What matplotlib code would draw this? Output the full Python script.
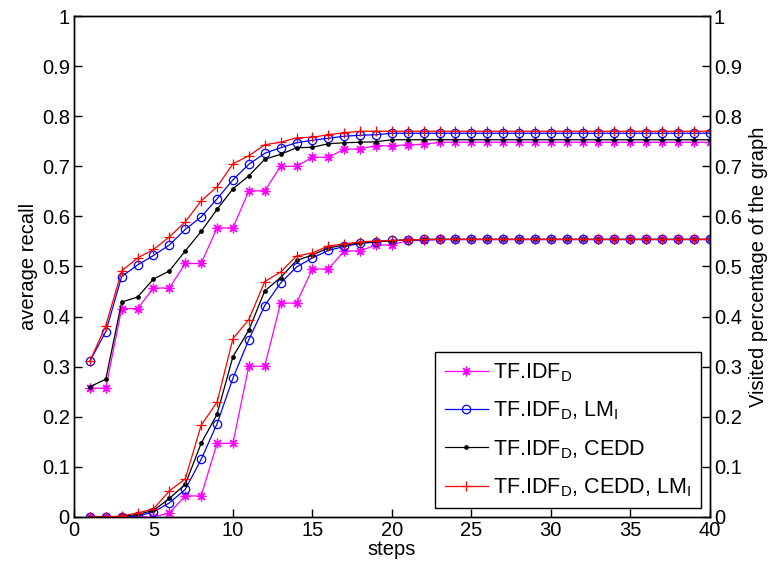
import numpy as np
import matplotlib
matplotlib.use("Agg")
import matplotlib.pyplot as plt

plt.rcParams['font.family'] = ['Liberation Sans', 'DejaVu Sans']
plt.rcParams['mathtext.fontset'] = 'custom'
plt.rcParams['mathtext.rm'] = 'Liberation Sans'

steps = np.arange(1, 41)

# average recall (left axis)
recall_tfidf = [0.257, 0.257, 0.416, 0.416, 0.457, 0.457, 0.506, 0.506, 0.577, 0.577,
                0.651, 0.651, 0.700, 0.700, 0.718, 0.718, 0.734, 0.735, 0.741, 0.741,
                0.743, 0.744, 0.748, 0.748, 0.748, 0.748, 0.748, 0.748, 0.748, 0.748,
                0.748, 0.748, 0.748, 0.748, 0.748, 0.748, 0.748, 0.748, 0.748, 0.748]
recall_lm = [0.311, 0.370, 0.480, 0.503, 0.522, 0.543, 0.574, 0.599, 0.635, 0.673,
             0.704, 0.726, 0.737, 0.747, 0.752, 0.756, 0.760, 0.762, 0.763, 0.766,
             0.766, 0.766, 0.766, 0.766, 0.766, 0.766, 0.766, 0.766, 0.766, 0.766,
             0.766, 0.766, 0.766, 0.766, 0.766, 0.766, 0.766, 0.766, 0.766, 0.766]
recall_cedd = [0.260, 0.275, 0.429, 0.439, 0.475, 0.491, 0.531, 0.570, 0.614, 0.655,
               0.681, 0.714, 0.724, 0.737, 0.738, 0.745, 0.747, 0.748, 0.749, 0.753,
               0.753, 0.753, 0.753, 0.753, 0.753, 0.753, 0.753, 0.753, 0.753, 0.753,
               0.753, 0.753, 0.753, 0.753, 0.753, 0.753, 0.753, 0.753, 0.753, 0.753]
recall_cedd_lm = [0.311, 0.382, 0.491, 0.517, 0.534, 0.559, 0.589, 0.631, 0.659, 0.705,
                  0.721, 0.743, 0.748, 0.757, 0.758, 0.763, 0.767, 0.770, 0.770, 0.770,
                  0.770, 0.770, 0.770, 0.770, 0.770, 0.770, 0.770, 0.770, 0.770, 0.770,
                  0.770, 0.770, 0.770, 0.770, 0.770, 0.770, 0.770, 0.770, 0.770, 0.770]

# visited percentage of the graph (right axis)
visit_tfidf = [0.0, 0.0, 0.0, 0.0, 0.0, 0.008, 0.042, 0.042, 0.147, 0.147,
               0.301, 0.301, 0.427, 0.427, 0.495, 0.495, 0.531, 0.531, 0.543, 0.543,
               0.552, 0.552, 0.554, 0.554, 0.554, 0.554, 0.554, 0.554, 0.554, 0.554,
               0.554, 0.554, 0.554, 0.554, 0.554, 0.554, 0.554, 0.554, 0.554, 0.554]
visit_lm = [0.0, 0.0, 0.0, 0.002, 0.010, 0.028, 0.055, 0.115, 0.186, 0.277,
            0.354, 0.422, 0.467, 0.499, 0.517, 0.532, 0.540, 0.546, 0.549, 0.552,
            0.553, 0.554, 0.554, 0.554, 0.554, 0.554, 0.554, 0.554, 0.554, 0.554,
            0.554, 0.554, 0.554, 0.554, 0.554, 0.554, 0.554, 0.554, 0.554, 0.554]
visit_cedd = [0.0, 0.0, 0.001, 0.005, 0.013, 0.037, 0.065, 0.147, 0.205, 0.320,
              0.373, 0.451, 0.478, 0.512, 0.523, 0.537, 0.543, 0.547, 0.550, 0.551,
              0.553, 0.554, 0.554, 0.554, 0.554, 0.554, 0.554, 0.554, 0.554, 0.554,
              0.554, 0.554, 0.554, 0.554, 0.554, 0.554, 0.554, 0.554, 0.554, 0.554]
visit_cedd_lm = [0.0, 0.0, 0.002, 0.008, 0.016, 0.052, 0.076, 0.183, 0.229, 0.356,
                 0.394, 0.470, 0.489, 0.521, 0.527, 0.541, 0.545, 0.549, 0.551, 0.552,
                 0.553, 0.554, 0.554, 0.554, 0.554, 0.554, 0.554, 0.554, 0.554, 0.554,
                 0.554, 0.554, 0.554, 0.554, 0.554, 0.554, 0.554, 0.554, 0.554, 0.554]

labels = [r'TF.IDF$_\mathregular{D}$',
          r'TF.IDF$_\mathregular{D}$, LM$_\mathregular{I}$',
          r'TF.IDF$_\mathregular{D}$, CEDD',
          r'TF.IDF$_\mathregular{D}$, CEDD, LM$_\mathregular{I}$']
# asterisk, open circle, dot, plus
styles = [dict(color='#ff00ff', marker=(8, 2, 0), ms=7),
          dict(color='#0000ff', marker='o', ms=6, mfc='none'),
          dict(color='black', marker='.', ms=5),
          dict(color='#ff0000', marker='+', ms=7)]

fig = plt.figure(figsize=(7.74, 5.72), dpi=100)
ax = fig.add_axes([0.0956, 0.0962, 0.8214, 0.8758])
ax2 = ax.twinx()

recall = [recall_tfidf, recall_lm, recall_cedd, recall_cedd_lm]
visit = [visit_tfidf, visit_lm, visit_cedd, visit_cedd_lm]
handles = []
for r, v, st, lab in zip(recall, visit, styles, labels):
    h, = ax.plot(steps, r, lw=0.9, mew=0.9, label=lab, **st)
    ax2.plot(steps, v, lw=0.9, mew=0.9, **st)
    handles.append(h)

ticks = np.arange(0, 1.01, 0.1)
ticklabels = ['0'] + ['%.1f' % t for t in ticks[1:-1]] + ['1']
for a in (ax, ax2):
    a.set_xlim(0, 40)
    a.set_ylim(0, 1)
    a.set_yticks(ticks)
    a.set_yticklabels(ticklabels)
    a.tick_params(direction='in', length=6, width=1, labelsize=14.5, pad=3)
    for s in a.spines.values():
        s.set_linewidth(1)
ax.set_xticks(np.arange(0, 41, 5))
ax.set_xlabel('steps', fontsize=14.5, labelpad=0)
ax.set_ylabel('average recall', fontsize=14.5, labelpad=3)
ax2.set_ylabel('Visited percentage of the graph', fontsize=14.5, labelpad=5)

leg = ax2.legend(handles, labels, loc='lower right', fontsize=15.5, fancybox=False,
                 framealpha=1, edgecolor='black', handlelength=2.0,
                 handletextpad=0.25, borderaxespad=0.4, labelspacing=0.72,
                 borderpad=0.45)
leg.get_frame().set_linewidth(1)

fig.savefig('out.png', dpi=100)
